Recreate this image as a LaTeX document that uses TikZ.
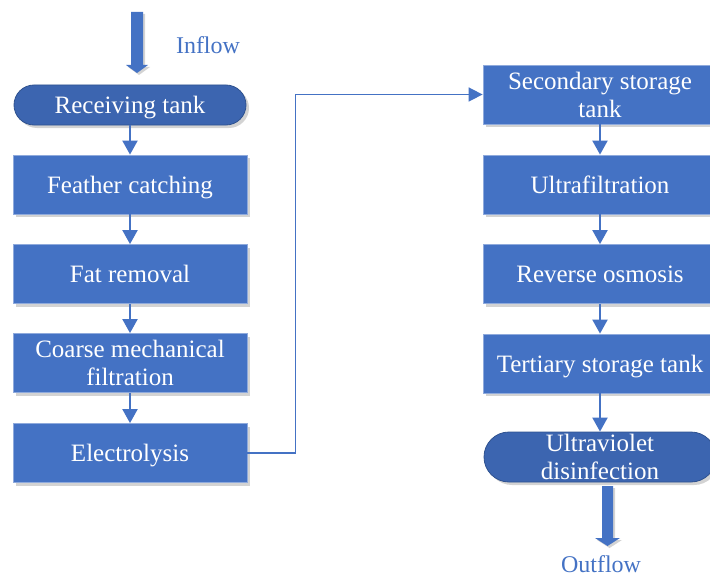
\documentclass[tikz,border=0pt]{standalone}
\usepackage{fontspec}
\setmainfont{Liberation Serif}
\usetikzlibrary{shadows,arrows.meta,shapes.misc}
\definecolor{boxblue}{HTML}{4472C4}
\definecolor{pillblue}{HTML}{3C65B0}
\definecolor{edgeblue}{HTML}{8FAADC}
\definecolor{pilledge}{HTML}{2F528F}
\begin{document}
\begin{tikzpicture}[x=1pt,y=-1pt,
  procbox/.style={rectangle, fill=boxblue, draw=edgeblue, line width=0.8pt,
    minimum width=234pt, minimum height=59pt, text=white,
    font=\fontsize{25}{28}\selectfont, align=center, inner sep=2pt, text depth=0pt,
    drop shadow={opacity=0.35, shadow xshift=3pt, shadow yshift=-3pt}},
  pillbox/.style={procbox, rounded rectangle, fill=pillblue, draw=pilledge, inner ysep=0pt},
  flow/.style={draw=boxblue, line width=2pt, -{Triangle[width=15pt,length=14pt]}},
  linkline/.style={draw=boxblue, line width=1.6pt, -{Triangle[width=14pt,length=14pt]}},
  bigarrow/.style={fill=boxblue, drop shadow={opacity=0.35, shadow xshift=2pt, shadow yshift=-2pt}},
  flowlabel/.style={text=boxblue, font=\fontsize{24}{27}\selectfont}
]
\useasboundingbox (0,0) rectangle (710,578);

% left column
\node[pillbox, minimum width=236pt, minimum height=40pt] (rt) at (130,105) {Receiving tank};
\node[procbox] (fc) at (130,184.5) {Feather catching};
\node[procbox] (fr) at (130,274) {Fat removal};
\node[procbox] (cm) at (130,363) {Coarse mechanical\\filtration};
\node[procbox] (el) at (130,453) {Electrolysis};

% right column
\node[procbox] (st) at (600,94.5) {Secondary storage\\tank};
\node[procbox] (uf) at (600,184.5) {Ultrafiltration};
\node[procbox] (ro) at (600,274) {Reverse osmosis};
\node[procbox] (tt) at (600,363.5) {Tertiary storage tank};
\node[pillbox, minimum width=236pt, minimum height=50pt] (uv) at (600,457) {Ultraviolet\\disinfection};

% connectors
\draw[flow] (rt.south) -- (fc.north);
\draw[flow] (fc.south) -- (fr.north);
\draw[flow] (fr.south) -- (cm.north);
\draw[flow] (cm.south) -- (el.north);
\draw[linkline] (el.east) -- ++(48,0) |- (st.west);
\draw[flow] (st.south) -- (uf.north);
\draw[flow] (uf.south) -- (ro.north);
\draw[flow] (ro.south) -- (tt.north);
\draw[flow] (tt.south) -- (uv.north);

% inflow / outflow block arrows
\fill[bigarrow] (131,12) -- (143,12) -- (143,65) -- (148,65) -- (137,73) -- (126,65) -- (131,65) -- cycle;
\node[flowlabel] (inlab) at (208,45) {Inflow};
\fill[bigarrow] (602,486) -- (613,486) -- (613,538) -- (620,538) -- (607.5,546) -- (595,538) -- (602,538) -- cycle;
\node[flowlabel] (outlab) at (601,564) {Outflow};
\end{tikzpicture}
\end{document}
